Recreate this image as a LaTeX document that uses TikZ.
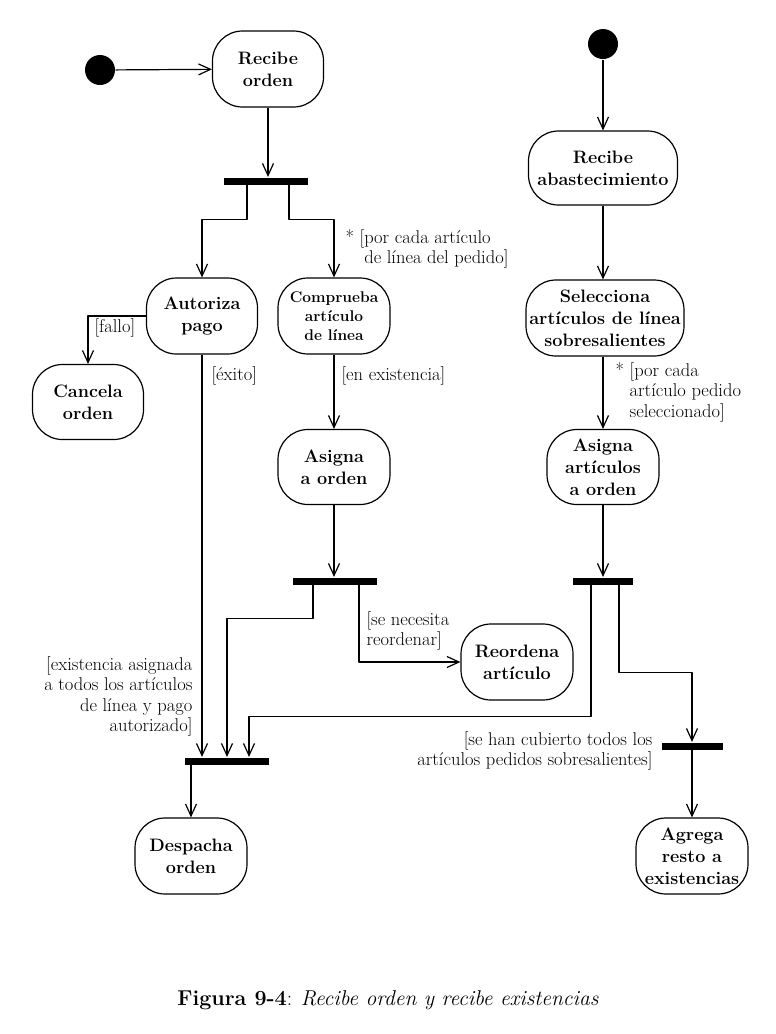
\documentclass[tikz,border=0pt]{standalone}
\usetikzlibrary{arrows.meta}
\begin{document}
\begin{tikzpicture}[x=1pt, y=-1pt, >={Straight Barb[length=12pt,width=11pt]}, line width=1.2pt, line join=round,
	act/.style={draw, rounded corners=30pt, minimum width=111pt, minimum height=76pt, align=center, inner sep=2pt, font=\fontsize{18}{22}\selectfont\bfseries},
	bar/.style={fill=black, minimum width=84pt, minimum height=7pt, inner sep=0pt},
	ini/.style={circle, fill=black, minimum size=30pt, inner sep=0pt},
	lbl/.style={font=\fontsize{18.5}{20.5}\selectfont, inner sep=0pt}]
			\useasboundingbox (0,0) rectangle (776,1034);
			% lado izquierdo: orden
			\node[ini] (iniOrden) at (100,70) {};
			\node[act] (recibeOrden) at (268,69) {Recibe\\orden};
			\node[bar] (barA) at (266,181) {};
			\node[act] (autoriza) at (202,316) {Autoriza\\pago};
			\node[act, minimum width=112pt, font=\fontsize{15.5}{19}\selectfont\bfseries] (comprueba) at (334,316) {Comprueba\\art\'iculo\\de l\'inea};
			\node[act, minimum height=75pt] (cancela) at (88,402) {Cancela\\orden};
			\node[act, minimum width=112pt, minimum height=75pt] (asignaOrden) at (334,467) {Asigna\\a orden};
			\node[bar] (barB) at (335,581) {};
			\node[act, minimum width=112pt] (reordena) at (517,662) {Reordena\\art\'iculo};
			\node[bar] (barC) at (227,761) {};
			\node[act, minimum width=112pt] (despacha) at (191,856) {Despacha\\orden};
			% lado derecho: existencias
			\node[ini] (iniExist) at (603,44) {};
			\node[act, minimum width=149pt, minimum height=74pt] (recibeAbast) at (603,168) {Recibe\\abastecimiento};
			\node[act, minimum width=158pt, inner sep=0pt] (selecciona) at (605,318) {Selecciona\\art\'iculos de l\'inea\\sobresalientes};
			\node[act, minimum width=112pt, minimum height=75pt] (asignaArt) at (603,467) {Asigna\\art\'iculos\\a orden};
			\node[bar, minimum width=60pt] (barD) at (603,581) {};
			\node[bar, minimum width=61pt] (barE) at (692,746) {};
			\node[act, minimum width=112pt, inner sep=0pt] (agrega) at (692,856) {Agrega\\resto a\\existencias};
			% flujos
			\draw[->] (iniOrden) -- (recibeOrden);
			\draw[->] (recibeOrden) -- (recibeOrden.south |- barA.north);
			\draw[->] ([xshift=-19pt]barA.south) -- ++(0,34) -| (autoriza.north);
			\draw[->] ([xshift=23pt]barA.south) -- ++(0,34) -| (comprueba.north);
			\draw[->] (autoriza.west) -| (cancela.north);
			\draw[->] (autoriza.south) -- (autoriza.south |- barC.north);
			\draw[->] (comprueba) -- (asignaOrden);
			\draw[->] (asignaOrden.south) -- (asignaOrden.south |- barB.north);
			\draw[->] ([xshift=-22pt]barB.south) -- ++(0,33) -| (barC.north);
			\draw[->] ([xshift=24pt]barB.south) |- (reordena.west);
			\draw[->] (barC.south -| despacha.north) -- (despacha.north);
			\draw[->] (iniExist) -- (recibeAbast);
			\draw[->] (recibeAbast.south) -- (recibeAbast.south |- selecciona.north);
			\draw[->] (selecciona.south -| asignaArt.north) -- (asignaArt.north);
			\draw[->] (asignaArt.south) -- (asignaArt.south |- barD.north);
			\draw[->] ([xshift=-12pt]barD.south) -- ++(0,131) -| ([xshift=22pt]barC.north);
			\draw[->] ([xshift=16pt]barD.south) -- ++(0,87) -| (barE.north);
			\draw[->] (barE) -- (agrega);
			% condiciones
			\node[lbl, anchor=north west, align=left] (lblPedido) at (345,229) {* [por cada art\'iculo\\\phantom{* [}de l\'inea del pedido]};
			\node[lbl, anchor=west] (lblFallo) at (94,328) {[fallo]};
			\node[lbl, anchor=west] (lblExito) at (211,376) {[\'exito]};
			\node[lbl, anchor=west] (lblExistencia) at (341,376) {[en existencia]};
			\node[lbl, anchor=north west, align=left] (lblReordenar) at (366,611) {[se necesita\\reordenar]};
			\node[lbl, anchor=north east, align=right] (lblAsignada) at (193,656) {[existencia asignada\\a todos los art\'iculos\\de l\'inea y pago\\autorizado]};
			\node[lbl, anchor=north west, align=left] (lblSeleccionado) at (615,362) {* [por cada\\\phantom{* }art\'iculo pedido\\\phantom{* }seleccionado]};
			\node[lbl, anchor=north east, align=right] (lblCubierto) at (653,731) {[se han cubierto todos los\\art\'iculos pedidos sobresalientes]};
			\node (caption) at (388,1000) {\fontsize{21.5}{24}\selectfont\textbf{Figura 9-4}: \textit{Recibe orden y recibe existencias}};
		\end{tikzpicture}
\end{document}
